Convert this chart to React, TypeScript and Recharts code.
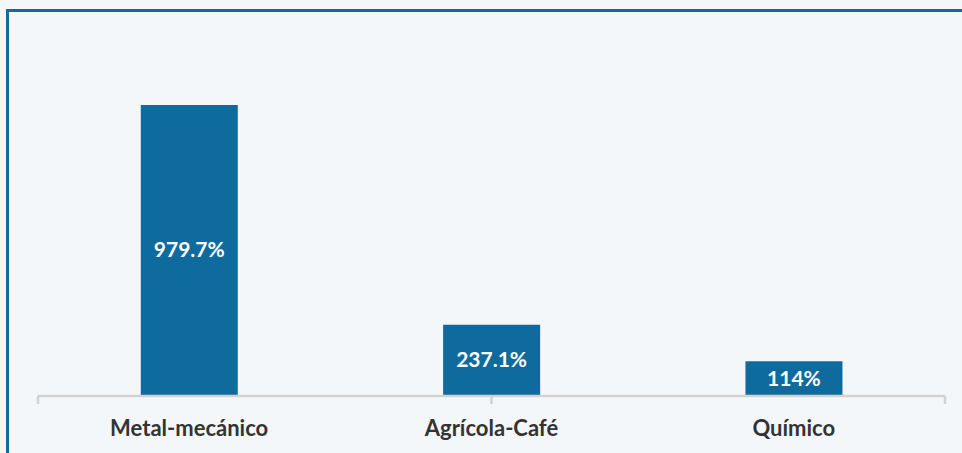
import { BarChart, Bar, XAxis, YAxis, LabelList } from "recharts";

const sectors = ["Metal-mecánico", "Agrícola-Café", "Químico"];
const growth = [979.7, 237.1, 114];
const edgeTicks = [0, 1, 2, 3];

const data = sectors.map((sector, i) => ({ sector, growth: growth[i] }));

const FONT = "Lato, Calibri, 'Open Sans', sans-serif";

export default function App() {
  return (
    <div
      style={{
        position: "absolute",
        left: 0,
        top: 0,
        width: 962,
        height: 453,
        overflow: "hidden",
        background: "#f4f7f9",
        fontFamily: FONT,
      }}
    >
      {/* frame around the chart area */}
      <div
        style={{
          position: "absolute",
          left: 6,
          top: 9,
          width: 970,
          height: 460,
          borderTop: "3px solid #17699b",
          borderLeft: "3px solid #17699b",
        }}
      />
      <BarChart
        width={962}
        height={453}
        data={data}
        margin={{ top: 99, right: 17, bottom: 0, left: 38 }}
        barCategoryGap="34%"
        style={{ position: "absolute", left: 0, top: 0 }}
      >
        {/* category labels sit right under the plot */}
        <XAxis
          dataKey="sector"
          height={1}
          axisLine={false}
          tickLine={false}
          tickMargin={19}
          tick={{ fill: "#333333", fontSize: 22, fontWeight: 700, fontFamily: FONT }}
        />
        {/* baseline with tick marks at the category boundaries */}
        <XAxis
          xAxisId="edges"
          type="number"
          domain={[0, 3]}
          ticks={edgeTicks}
          allowDataOverflow
          height={57}
          tickFormatter={() => ""}
          tickSize={8}
          axisLine={{ stroke: "#d2d2d2", strokeWidth: 2.5 }}
          tickLine={{ stroke: "#d2d2d2", strokeWidth: 2.5 }}
        />
        <YAxis hide domain={[0, 1000]} />
        <Bar dataKey="growth" fill="#0f6a9e" isAnimationActive={false}>
          <LabelList
            dataKey="growth"
            position="center"
            formatter={(v: number) => `${v}%`}
            fill="#ffffff"
            fontSize={21}
            fontWeight={700}
            fontFamily={FONT}
          />
        </Bar>
      </BarChart>
    </div>
  );
}
